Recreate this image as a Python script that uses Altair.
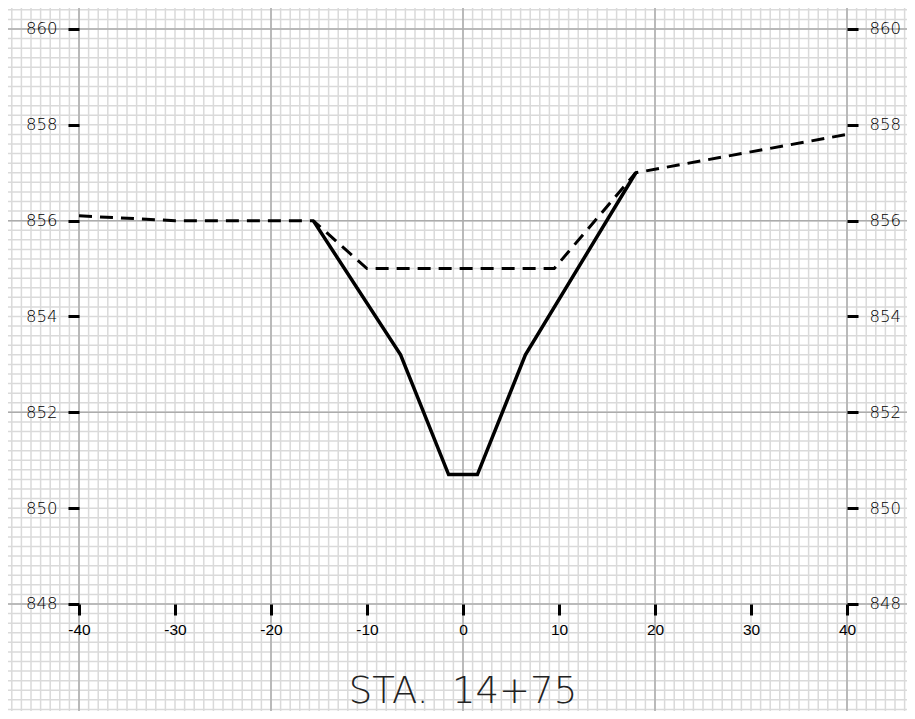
import altair as alt
import pandas as pd

# ---- data ----
section_x = [-15.6, -6.5, -1.5, 1.5, 6.5, 18.0]
section_y = [856.0, 853.2, 850.7, 850.7, 853.2, 857.0]

ground_x = [-40.0, -30.0, -15.6, -10.0, 9.5, 18.0, 40.0]
ground_y = [856.1, 856.0, 856.0, 855.0, 855.0, 857.0, 857.8]

x_ticks = [-40, -30, -20, -10, 0, 10, 20, 30, 40]
y_ticks = [848, 850, 852, 854, 856, 858, 860]
title_text = "STA.\u00a0\u00a014+75"

# ---- layout ----
W, H = 899, 703
X_DOM = [-47.396, 46.25]
Y_DOM = [845.767, 860.438]

minor_x = list(range(-47, 47))
minor_y = [round(848 + k * 0.2, 1) for k in range(-11, 63)]
major_x = [-40, -20, 0, 20, 40]
major_y = [848, 852, 856, 860]

xs = alt.Scale(domain=X_DOM, nice=False, zero=False)
ys = alt.Scale(domain=Y_DOM, nice=False, zero=False)

sec_df = pd.DataFrame({"x": section_x, "y": section_y})
gr_df = pd.DataFrame({"x": ground_x, "y": ground_y})

MINOR = "#dadada"
MAJOR = "#acacac"

g_minor_x = alt.Chart(pd.DataFrame({"v": minor_x})).mark_rule(
    color=MINOR, strokeWidth=1.5).encode(
    x=alt.X("v:Q", scale=xs, axis=None))
g_minor_y = alt.Chart(pd.DataFrame({"v": minor_y})).mark_rule(
    color=MINOR, strokeWidth=1.5).encode(
    y=alt.Y("v:Q", scale=ys, axis=None))
g_major_x = alt.Chart(pd.DataFrame({"v": major_x})).mark_rule(
    color=MAJOR, strokeWidth=1.5).encode(
    x=alt.X("v:Q", scale=xs, axis=None))
g_major_y = alt.Chart(pd.DataFrame({"v": major_y})).mark_rule(
    color=MAJOR, strokeWidth=1.5).encode(
    y=alt.Y("v:Q", scale=ys, axis=None))

LFONT = "DejaVu Sans"

x_axis = alt.Axis(orient="bottom", offset=-107, values=x_ticks, tickSize=11,
                  tickWidth=3, tickColor="black", labelPadding=7,
                  labelFont="Liberation Sans", labelFontSize=15.5,
                  labelColor="black", labelExpr="'' + datum.value",
                  domain=False, grid=False, title=None, zindex=1)
y_left = alt.Axis(orient="left", offset=-71, values=y_ticks, tickSize=11,
                  tickWidth=3, tickColor="black", labelPadding=11,
                  labelFont=LFONT, labelFontSize=16.5, labelFontWeight=200,
                  labelColor="black", domain=False, grid=False, title=None,
                  zindex=1)
y_right = alt.Axis(orient="right", offset=-60, values=y_ticks, tickSize=11,
                   tickWidth=3, tickColor="black", labelPadding=11,
                   labelFont=LFONT, labelFontSize=16.5, labelFontWeight=200,
                   labelColor="black", domain=False, grid=False, title=None,
                   zindex=1)

section = alt.Chart(sec_df).mark_line(
    color="black", strokeWidth=3.5, strokeJoin="miter").encode(
    x=alt.X("x:Q", scale=xs, axis=x_axis),
    y=alt.Y("y:Q", scale=ys, axis=y_left))

ground = alt.Chart(gr_df).mark_line(
    color="black", strokeWidth=3, strokeDash=[13, 8]).encode(
    x=alt.X("x:Q", scale=xs, axis=None),
    y=alt.Y("y:Q", scale=ys, axis=y_right))

title = alt.Chart(pd.DataFrame({"t": [title_text]})).mark_text(
    font=LFONT, fontSize=37, fontWeight=200, color="#222222",
    align="center", baseline="alphabetic").encode(
    x=alt.XDatum(0, scale=xs, axis=None),
    y=alt.value(695),
    text="t:N")

chart = alt.layer(
    g_minor_x, g_minor_y, g_major_x, g_major_y, ground, section, title
).resolve_axis(x="independent", y="independent").properties(
    width=W, height=H, padding=0, autosize="none", background="white"
).configure_view(stroke=None)

chart.save("out.html", embed_options={"renderer": "svg", "actions": False})
